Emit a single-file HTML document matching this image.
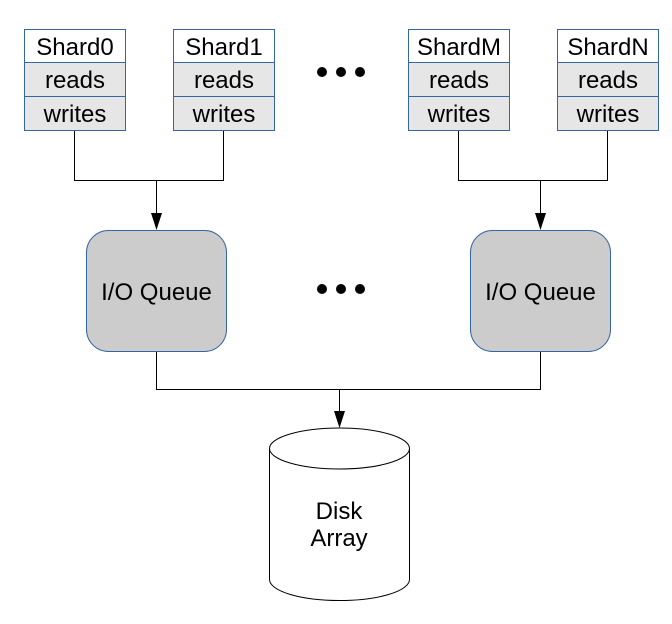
<!DOCTYPE html>
<html><head><meta charset="utf-8"><style>html,body{margin:0;padding:0;background:#fff}svg{display:block}text{font-family:"Liberation Sans",sans-serif;font-size:24px}</style></head><body>
<svg width="672" height="624" viewBox="0 0 672 624" xmlns="http://www.w3.org/2000/svg">
<g stroke="#3465a4" stroke-width="1">
<rect x="24.5" y="29.5" width="101" height="33" fill="#fff"/><rect x="24.5" y="62.5" width="101" height="34" fill="#e6e6e6"/><rect x="24.5" y="96.5" width="101" height="34" fill="#e6e6e6"/>
<rect x="173.5" y="29.5" width="101" height="33" fill="#fff"/><rect x="173.5" y="62.5" width="101" height="34" fill="#e6e6e6"/><rect x="173.5" y="96.5" width="101" height="34" fill="#e6e6e6"/>
<rect x="408.5" y="29.5" width="101" height="33" fill="#fff"/><rect x="408.5" y="62.5" width="101" height="34" fill="#e6e6e6"/><rect x="408.5" y="96.5" width="101" height="34" fill="#e6e6e6"/>
<rect x="557.5" y="29.5" width="101" height="33" fill="#fff"/><rect x="557.5" y="62.5" width="101" height="34" fill="#e6e6e6"/><rect x="557.5" y="96.5" width="101" height="34" fill="#e6e6e6"/>
<rect x="86.5" y="230.5" width="140" height="121" rx="22" fill="#cccccc"/>
<rect x="470.5" y="230.5" width="140" height="121" rx="22" fill="#cccccc"/>
</g>
<g fill="none" stroke="#000" stroke-width="1">
<path d="M74.5 131V180.5H223.5V131M156.5 180.5V214"/>
<path d="M458.5 131V180.5H607.5V131M540.5 180.5V214"/>
<path d="M156.5 352V389.5H540.5V352M339.5 389.5V412"/>
<path d="M269.5 448.5V579.5A70 21 0 0 0 409.5 579.5V448.5A70 20.5 0 0 0 269.5 448.5A70 20.5 0 0 0 409.5 448.5" fill="#fff"/>
</g>
<g text-anchor="middle" fill="#000">
<text x="75" y="55">Shard0</text><text x="75" y="88">reads</text><text x="75" y="122">writes</text>
<text x="224" y="55">Shard1</text><text x="224" y="88">reads</text><text x="224" y="122">writes</text>
<text x="459" y="55">ShardM</text><text x="459" y="88">reads</text><text x="459" y="122">writes</text>
<text x="608" y="55">ShardN</text><text x="608" y="88">reads</text><text x="608" y="122">writes</text>
<text x="156.5" y="300">I/O Queue</text>
<text x="540.5" y="300">I/O Queue</text>
<text x="339" y="519">Disk</text>
<text x="339" y="546">Array</text>
</g>
<g fill="#000">
<path d="M151 213H162L156.5 230Z"/>
<path d="M535 213H546L540.5 230Z"/>
<path d="M334 411H345L339.5 428Z"/>
<circle cx="322" cy="72" r="5"/><circle cx="341" cy="72" r="5"/><circle cx="360" cy="72" r="5"/>
<circle cx="322" cy="289" r="5"/><circle cx="341" cy="289" r="5"/><circle cx="360" cy="289" r="5"/>
</g>
</svg>
</body></html>
